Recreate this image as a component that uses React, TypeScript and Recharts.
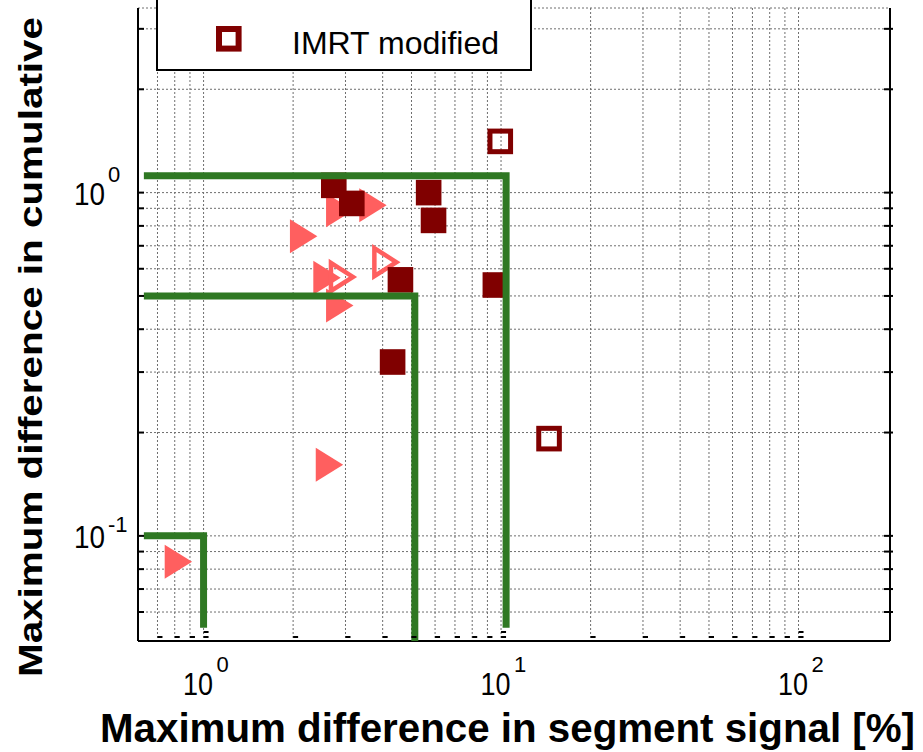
import React from 'react';
import { ScatterChart, Scatter, XAxis, YAxis, CartesianGrid, Legend } from 'recharts';

const FONT = '"Liberation Sans", Arial, sans-serif';
const DARK_RED = '#800000';
const SALMON = '#FF5F5F';
const GREEN = '#2F7823';

const xTicks = [0.7, 0.8, 0.9, 1, 2, 3, 4, 5, 6, 7, 8, 9, 10, 20, 30, 40, 50, 60, 70, 80, 90, 100];
const yTicks = [0.06, 0.07, 0.08, 0.09, 0.1, 0.2, 0.3, 0.4, 0.5, 0.6, 0.7, 0.8, 0.9, 1, 2, 3];
const xExponents: Record<string, string> = { '1': '0', '10': '1', '100': '2' };
const yExponents: Record<string, string> = { '0.1': '-1', '1': '0' };

const LEGEND_NAME = 'IMRT modified';

// filled dark red squares
const imrt = [
  { x: 2.74, y: 1.05 },
  { x: 3.15, y: 0.93 },
  { x: 5.71, y: 1.0 },
  { x: 5.93, y: 0.83 },
  { x: 4.59, y: 0.557 },
  { x: 9.57, y: 0.538 },
  { x: 4.32, y: 0.321 },
];

// open dark red squares
const imrtModified = [
  { x: 9.94, y: 1.41 },
  { x: 14.5, y: 0.192 },
];

// filled salmon triangles
const other = [
  { x: 2.17, y: 0.746 },
  { x: 2.87, y: 0.889 },
  { x: 3.71, y: 0.919 },
  { x: 2.6, y: 0.565 },
  { x: 2.87, y: 0.469 },
  { x: 2.65, y: 0.161 },
  { x: 0.823, y: 0.084 },
];

// open salmon triangles
const otherModified = [
  { x: 2.93, y: 0.568 },
  { x: 4.1, y: 0.627 },
];

// green threshold steps
const limit1 = [
  { x: 0.63, y: 0.1 },
  { x: 1.0, y: 0.1 },
  { x: 1.0, y: 0.054 },
];
const limit5 = [
  { x: 0.63, y: 0.5 },
  { x: 5.13, y: 0.5 },
  { x: 5.13, y: 0.0494 },
];
const limit10 = [
  { x: 0.63, y: 1.12 },
  { x: 10.4, y: 1.12 },
  { x: 10.4, y: 0.054 },
];

const FilledSquare = ({ cx, cy }: any) => (
  <rect x={cx - 12.8} y={cy - 12.8} width={25.6} height={25.6} fill={DARK_RED} />
);
const OpenSquare = ({ cx, cy }: any) => (
  <rect x={cx - 10.3} y={cy - 10.3} width={20.6} height={20.6} fill="none" stroke={DARK_RED} strokeWidth={5} />
);
const FilledTriangle = ({ cx, cy }: any) => (
  <polygon points={`${cx - 13.7},${cy - 17} ${cx + 13.7},${cy} ${cx - 13.7},${cy + 17}`} fill={SALMON} />
);
const OpenTriangle = ({ cx, cy }: any) => (
  <polygon points={`${cx - 11.5},${cy - 14} ${cx + 10.5},${cy} ${cx - 11.5},${cy + 14}`} fill="none" stroke={SALMON} strokeWidth={4.5} />
);
const NoShape = () => <g />;

const XTick = (props: any) => {
  const { x, y, payload } = props;
  const exp = xExponents[String(payload.value)];
  return (
    <g>
      <line x1={x} x2={x + 5} y1={y - 4} y2={y - 4} stroke="#000" strokeWidth={2} />
      {exp !== undefined && (
        <g fontFamily={FONT} fill="#000">
          <line x1={x} x2={x + 5} y1={y - 9} y2={y - 9} stroke="#000" strokeWidth={2} />
          <text x={x + 9.5} y={y + 54} fontSize={32} textAnchor="end" textLength={30} lengthAdjust="spacingAndGlyphs">10</text>
          <text x={x + 13} y={y + 31} fontSize={22}>{exp}</text>
        </g>
      )}
    </g>
  );
};

const YTickLeft = (props: any) => {
  const { x, y, payload } = props;
  const exp = yExponents[String(payload.value)];
  return (
    <g>
      <line x1={x} x2={x + 6} y1={y} y2={y} stroke="#000" strokeWidth={2} />
      {exp !== undefined && (
        <g fontFamily={FONT} fill="#000">
          <text x={x - 33} y={y + 12} fontSize={32} textAnchor="end" textLength={31} lengthAdjust="spacingAndGlyphs">10</text>
          <text x={x - 30} y={exp === '0' ? y - 11 : y - 4} fontSize={22}>{exp}</text>
        </g>
      )}
    </g>
  );
};

const YTickRight = (props: any) => {
  const { x, y } = props;
  return <line x1={x - 6} x2={x + 3} y1={y} y2={y} stroke="#000" strokeWidth={2} />;
};

const XLabel = ({ viewBox }: any) => (
  <text
    x={viewBox.x + viewBox.width / 2 - 6.5}
    y={viewBox.y + 101}
    textAnchor="middle"
    fontFamily={FONT}
    fontWeight="bold"
    fontSize={40}
    textLength={815}
    lengthAdjust="spacingAndGlyphs"
    fill="#000"
  >
    Maximum difference in segment signal [%]
  </text>
);

const YLabel = ({ viewBox }: any) => {
  const cx = viewBox.x + 42;
  const cy = viewBox.y + viewBox.height / 2 + 22.5;
  return (
    <text
      x={cx}
      y={cy}
      transform={`rotate(-90, ${cx}, ${cy})`}
      textAnchor="middle"
      fontFamily={FONT}
      fontWeight="bold"
      fontSize={34}
      textLength={660}
      lengthAdjust="spacingAndGlyphs"
      fill="#000"
    >
      Maximum difference in cumulative
    </text>
  );
};

const LegendBox = () => (
  <svg width={376} height={72} style={{ display: 'block' }}>
    <rect x={0} y={0} width={376} height={71} fill="#fff" />
    <path d="M1,0 V70 H375 V0" fill="none" stroke="#000" strokeWidth={2} />
    <rect x={63} y={29} width={19.6} height={19.6} fill="none" stroke={DARK_RED} strokeWidth={6} />
    <text x={136} y={54} fontFamily={FONT} fontSize={32} textLength={207} lengthAdjust="spacingAndGlyphs" fill="#000">
      {LEGEND_NAME}
    </text>
  </svg>
);

export default function App() {
  return (
    <div style={{ position: 'absolute', left: 0, top: 0, background: '#fff' }}>
      <ScatterChart width={923} height={752} margin={{ top: 8, right: 0, bottom: 0, left: 0 }} style={{ fontFamily: FONT }}>
        <CartesianGrid stroke="#6e6e6e" strokeDasharray="2 2" strokeWidth={1} />
        <XAxis
          type="number"
          dataKey="x"
          scale="log"
          domain={[0.602, 203]}
          allowDataOverflow
          ticks={xTicks}
          interval={0}
          height={111}
          tickSize={0}
          tickMargin={0}
          tickLine={false}
          axisLine={{ stroke: '#000', strokeWidth: 2 }}
          tick={<XTick />}
          label={<XLabel />}
        />
        <YAxis
          type="number"
          dataKey="y"
          scale="log"
          domain={[0.0494, 3.45]}
          allowDataOverflow
          ticks={yTicks}
          interval={0}
          width={138}
          tickSize={0}
          tickMargin={0}
          tickLine={false}
          axisLine={{ stroke: '#000', strokeWidth: 2 }}
          tick={<YTickLeft />}
          label={<YLabel />}
        />
        <YAxis
          yAxisId="right"
          orientation="right"
          type="number"
          scale="log"
          domain={[0.0494, 3.45]}
          allowDataOverflow
          ticks={yTicks}
          interval={0}
          width={33}
          tickSize={0}
          tickMargin={0}
          tickLine={false}
          axisLine={{ stroke: '#000', strokeWidth: 2 }}
          tick={<YTickRight />}
        />
        <Legend
          layout="horizontal"
          verticalAlign="middle"
          align="center"
          wrapperStyle={{ position: 'absolute', left: 156, top: 0, width: 376, height: 72 }}
          content={() => <LegendBox />}
        />
        <Scatter name="Other" data={other} shape={(p: any) => <FilledTriangle {...p} />} isAnimationActive={false} />
        <Scatter name="Other modified" data={otherModified} shape={(p: any) => <OpenTriangle {...p} />} isAnimationActive={false} />
        <Scatter name="IMRT" data={imrt} shape={(p: any) => <FilledSquare {...p} />} isAnimationActive={false} />
        <Scatter name={LEGEND_NAME} data={imrtModified} shape={(p: any) => <OpenSquare {...p} />} isAnimationActive={false} />
        <Scatter name="limit 1" data={limit1} fill={GREEN} line={{ stroke: GREEN, strokeWidth: 7 }} shape={NoShape} isAnimationActive={false} legendType="none" />
        <Scatter name="limit 5" data={limit5} fill={GREEN} line={{ stroke: GREEN, strokeWidth: 7 }} shape={NoShape} isAnimationActive={false} legendType="none" />
        <Scatter name="limit 10" data={limit10} fill={GREEN} line={{ stroke: GREEN, strokeWidth: 7 }} shape={NoShape} isAnimationActive={false} legendType="none" />
      </ScatterChart>
    </div>
  );
}
